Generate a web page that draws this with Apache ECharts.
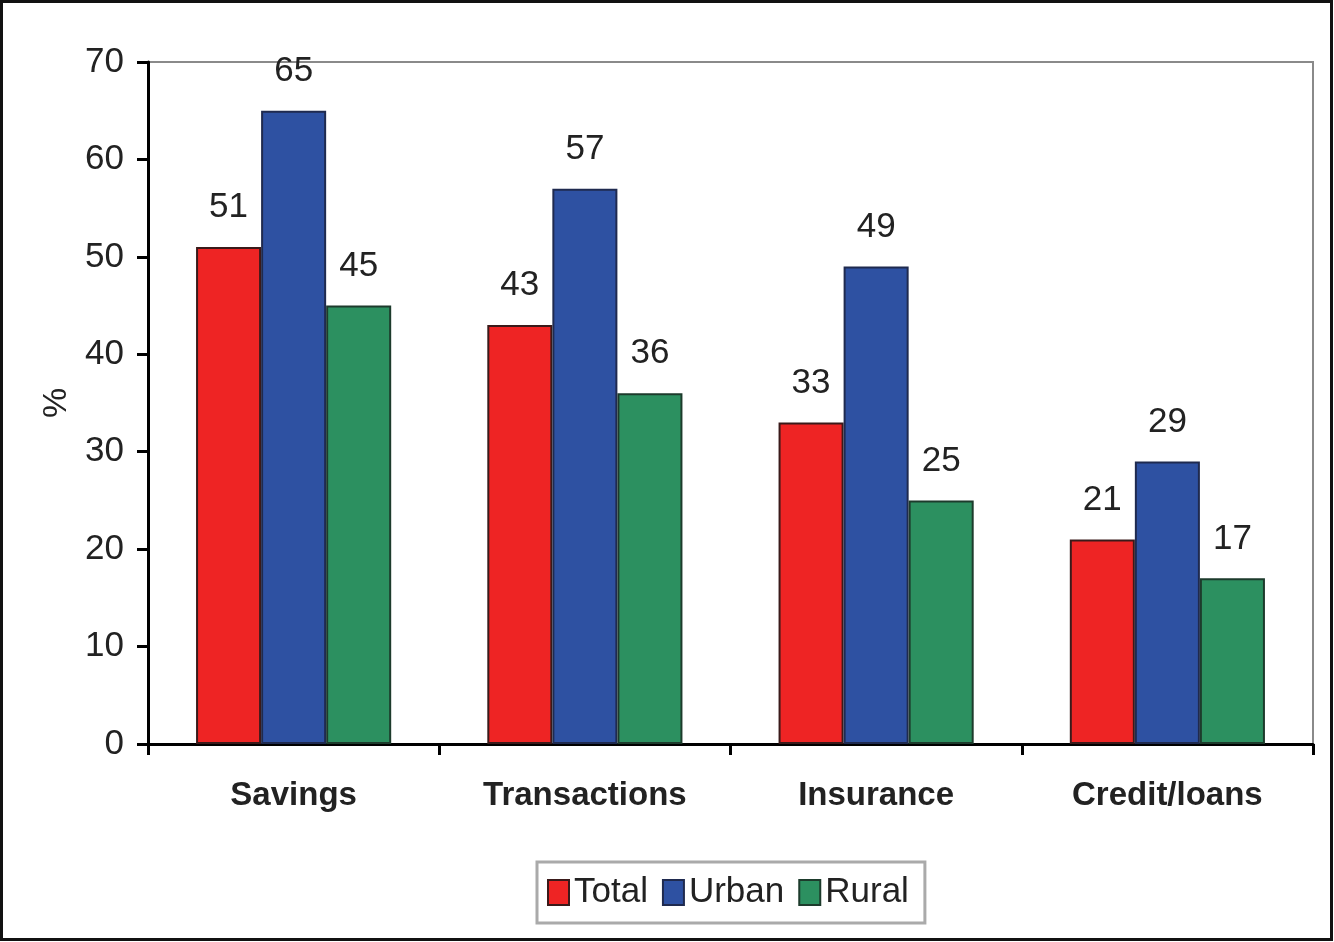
<!DOCTYPE html>
<html><head><meta charset="utf-8">
<script src="https://cdn.jsdelivr.net/npm/echarts@6/dist/echarts.min.js"></script>
<style>html,body{margin:0;padding:0;background:#fff}#c{width:1334px;height:942px}</style>
</head><body><div id="c"></div>
<script>
const categories = ['Savings', 'Transactions', 'Insurance', 'Credit/loans'];
const total = [51, 43, 33, 21];
const urban = [65, 57, 49, 29];
const rural = [45, 36, 25, 17];
const yTicks = { min: 0, max: 70, interval: 10 };

const FONT = '"Liberation Sans Narrow", "Arial Narrow", "Liberation Sans", Arial, sans-serif';
const chart = echarts.init(document.getElementById('c'));
const lbl = { show: true, position: 'top', distance: 22, color: '#222', fontFamily: FONT, fontSize: 35 };
function s(name, data, color, border) {
  return { name, type: 'bar', data, barGap: '0%', barCategoryGap: '33%',
    itemStyle: { color, borderColor: border, borderWidth: 2 },
    label: lbl };
}
chart.setOption({
  animation: false,
  textStyle: { fontFamily: FONT },
  graphic: [{ type: 'rect', shape: { x: 1.5, y: 1.5, width: 1330, height: 938 },
    style: { fill: 'none', stroke: '#111', lineWidth: 3 }, z: 100 }],
  grid: { left: 148, right: 21, top: 62, bottom: 198, show: true, borderColor: '#8a8a8a', borderWidth: 2 },
  legend: {
    left: 537, top: 862, icon: 'rect', itemWidth: 21, itemHeight: 25, itemGap: 14,
    padding: [13, 16, 13, 10], borderColor: '#aaa', borderWidth: 3,
    textStyle: { fontFamily: FONT, fontSize: 35, color: '#222', padding: [0, 0, 0, 0] },
    data: ['Total', 'Urban', 'Rural']
  },
  xAxis: {
    type: 'category', data: categories,
    axisLine: { lineStyle: { color: '#000', width: 3 } },
    axisTick: { show: true, length: 11, lineStyle: { color: '#000', width: 3 } },
    axisLabel: { interval: 0, margin: 35, fontFamily: FONT, fontSize: 33, fontWeight: 'bold', color: '#222' }
  },
  yAxis: {
    type: 'value', min: yTicks.min, max: yTicks.max, interval: yTicks.interval,
    name: '%', nameLocation: 'middle', nameGap: 74, nameRotate: 90,
    nameTextStyle: { fontFamily: FONT, fontSize: 34, color: '#222' },
    axisLine: { show: true, lineStyle: { color: '#000', width: 3 } },
    axisTick: { show: true, length: 11, lineStyle: { color: '#000', width: 3 } },
    splitLine: { show: false },
    axisLabel: { margin: 24, fontFamily: FONT, fontSize: 35, color: '#222' }
  },
  series: [
    s('Total', total, '#EE2424', '#3a1a1a'),
    s('Urban', urban, '#2E51A2', '#1f2a4f'),
    s('Rural', rural, '#2C9060', '#1d3b2c')
  ]
});
</script></body></html>
